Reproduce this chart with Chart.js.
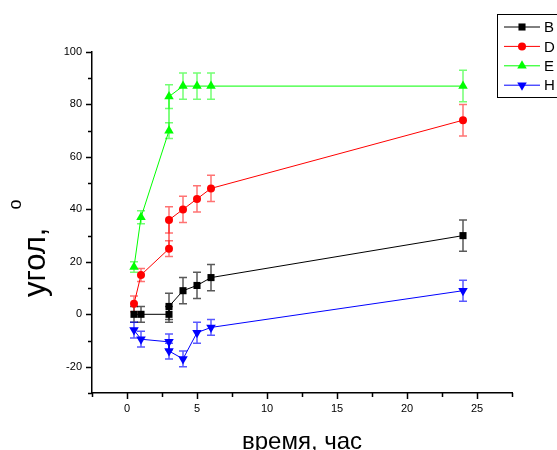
<!DOCTYPE html>
<html>
<head>
<meta charset="utf-8">
<script src="https://cdn.jsdelivr.net/npm/chart.js@4.4.1/dist/chart.umd.min.js"></script>
<style>
  body { margin: 0; background: #fff; }
  #wrap { width: 557px; height: 450px; }
</style>
</head>
<body>
<div id="wrap"><canvas id="chart" width="557" height="450"></canvas></div>
<script>
// hours
const times = [0.5, 1, 3, 3, 4, 5, 6, 24];
const seriesNames = ['B', 'D', 'E', 'H'];
const valuesB = [0, 0, 0, 3, 9, 11, 14, 30];
const valuesD = [4, 15, 25, 36, 40, 44, 48, 74];
const valuesE = [18, 37, 70, 83, 87, 87, 87, 87];
const valuesH = [-6, -9.5, -10.5, -14, -17, -7, -5, 9];
const errB = [3, 3, 3, 5, 5, 5, 5, 6];
const errD = [3, 2.5, 3, 5, 5, 5, 5, 6];
const errE = [2, 2.5, 3, 4.5, 5, 5, 5, 6];
const errH = [3, 3, 3, 3, 3, 4, 3, 4];
const xTicks = [0, 5, 10, 15, 20, 25];
const yTicks = [-20, 0, 20, 40, 60, 80, 100];

const FONT = '"Liberation Sans", Arial, sans-serif';
const colors = ['#000000', '#ff0000', '#00ff00', '#0000ff'];
const barColors = ['rgba(0,0,0,0.65)', 'rgba(255,0,0,0.55)', 'rgba(0,255,0,0.55)', 'rgba(0,0,255,0.65)'];
const styles = [
  { pointStyle: 'rect', radius: 5, rotation: 0 },
  { pointStyle: 'circle', radius: 4, rotation: 0 },
  { pointStyle: 'triangle', radius: 5.5, rotation: 0 },
  { pointStyle: 'triangle', radius: 5.5, rotation: 180 },
];
const allValues = [valuesB, valuesD, valuesE, valuesH];
const allErrors = [errB, errD, errE, errH];

const datasets = allValues.map((vals, i) => ({
  label: seriesNames[i],
  data: vals.map((v, j) => ({ x: times[j], y: v })),
  errors: allErrors[i],
  borderColor: colors[i],
  backgroundColor: colors[i],
  borderWidth: 1,
  pointStyle: styles[i].pointStyle,
  pointRadius: styles[i].radius,
  pointRotation: styles[i].rotation,
  pointBorderWidth: 0,
  pointHoverRadius: styles[i].radius,
  tension: 0,
}));

// error bars with caps, drawn under the markers
const errorBars = {
  id: 'errorBars',
  beforeDatasetsDraw(chart) {
    const ctx = chart.ctx;
    const xs = chart.scales.x, ys = chart.scales.y;
    ctx.save();
    chart.data.datasets.forEach((ds, i) => {
      ctx.strokeStyle = barColors[i];
      ctx.lineWidth = 1.5;
      ds.data.forEach((p, j) => {
        const e = ds.errors[j];
        const px = xs.getPixelForValue(p.x);
        const top = ys.getPixelForValue(p.y + e);
        const bot = ys.getPixelForValue(p.y - e);
        ctx.beginPath();
        ctx.moveTo(px, top); ctx.lineTo(px, bot);
        ctx.moveTo(px - 4, top); ctx.lineTo(px + 4, top);
        ctx.moveTo(px - 4, bot); ctx.lineTo(px + 4, bot);
        ctx.stroke();
      });
    });
    ctx.restore();
  }
};

// outward ticks, major and minor
const axisTicks = {
  id: 'axisTicks',
  afterDraw(chart) {
    const ctx = chart.ctx;
    const xs = chart.scales.x, ys = chart.scales.y;
    const a = chart.chartArea;
    ctx.save();
    ctx.strokeStyle = '#000';
    ctx.lineWidth = 1.5;
    ctx.beginPath();
    for (let v = -2.5; v <= 27.5; v += 2.5) {
      const px = Math.round(xs.getPixelForValue(v)) + 0.5;
      const len = xTicks.includes(v) ? 6 : 4;
      ctx.moveTo(px, a.bottom); ctx.lineTo(px, a.bottom + len);
    }
    for (let v = -30; v <= 100; v += 10) {
      const py = Math.round(ys.getPixelForValue(v)) + 0.5;
      const len = yTicks.includes(v) ? 6 : 4;
      ctx.moveTo(a.left, py); ctx.lineTo(a.left - len, py);
    }
    ctx.stroke();
    ctx.restore();
  }
};

// axis titles
const axisTitles = {
  id: 'axisTitles',
  afterDraw(chart) {
    const ctx = chart.ctx;
    const a = chart.chartArea;
    ctx.save();
    ctx.fillStyle = '#000';
    ctx.font = '24px ' + FONT;
    ctx.textAlign = 'center';
    ctx.textBaseline = 'alphabetic';
    ctx.fillText('время, час', (a.left + a.right) / 2, 449);

    ctx.translate(45, 297);
    ctx.rotate(-Math.PI / 2);
    ctx.textAlign = 'left';
    ctx.font = '31px ' + FONT;
    const t = 'угол,';
    ctx.fillText(t, 0, 0);
    const w = ctx.measureText(t).width;
    ctx.font = '18px ' + FONT;
    ctx.fillText('o', w + 18, -24);
    ctx.restore();
  }
};

function drawMarker(ctx, style, x, y, r, rot) {
  ctx.beginPath();
  if (style === 'rect') {
    const s = r * Math.SQRT1_2;
    ctx.rect(x - s, y - s, 2 * s, 2 * s);
  } else if (style === 'circle') {
    ctx.arc(x, y, r, 0, Math.PI * 2);
  } else {
    const d = rot ? -1 : 1;
    ctx.moveTo(x, y - d * r);
    ctx.lineTo(x + r * 0.866, y + d * r * 0.5);
    ctx.lineTo(x - r * 0.866, y + d * r * 0.5);
    ctx.closePath();
  }
  ctx.fill();
}

// boxed legend in the top right corner
const boxLegend = {
  id: 'boxLegend',
  afterDraw(chart) {
    const ctx = chart.ctx;
    ctx.save();
    ctx.strokeStyle = '#000';
    ctx.lineWidth = 1;
    ctx.strokeRect(497.5, 14.5, 70, 83);
    ctx.font = '15px ' + FONT;
    ctx.textBaseline = 'middle';
    seriesNames.forEach((name, i) => {
      const y = 27 + i * 19.4;
      ctx.strokeStyle = colors[i];
      ctx.beginPath();
      ctx.moveTo(504, y); ctx.lineTo(540, y);
      ctx.stroke();
      ctx.fillStyle = colors[i];
      drawMarker(ctx, styles[i].pointStyle, 522, y, styles[i].radius, styles[i].rotation);
      ctx.fillStyle = '#000';
      ctx.fillText(name, 544, y + 1);
    });
    ctx.restore();
  }
};

new Chart(document.getElementById('chart'), {
  type: 'line',
  data: { datasets },
  options: {
    responsive: false,
    animation: false,
    layout: { padding: { left: 0, top: 52, right: 45, bottom: 0 } },
    plugins: { legend: { display: false }, tooltip: { enabled: false } },
    scales: {
      x: {
        type: 'linear',
        min: -2.5,
        max: 27.5,
        afterFit: s => { s.height = 57; },
        afterBuildTicks: s => { s.ticks = xTicks.map(v => ({ value: v })); },
        ticks: { color: '#000', font: { family: FONT, size: 11 }, padding: 9, maxRotation: 0 },
        grid: { drawOnChartArea: false, drawTicks: false },
        border: { color: '#000', width: 1.5 },
      },
      y: {
        min: -30,
        max: 100,
        afterFit: s => { s.width = 92; },
        afterBuildTicks: s => { s.ticks = yTicks.map(v => ({ value: v })); },
        ticks: { color: '#000', font: { family: FONT, size: 11 }, padding: 10 },
        grid: { drawOnChartArea: false, drawTicks: false },
        border: { color: '#000', width: 1.5 },
      },
    },
  },
  plugins: [errorBars, axisTicks, axisTitles, boxLegend],
});
</script>
</body>
</html>
